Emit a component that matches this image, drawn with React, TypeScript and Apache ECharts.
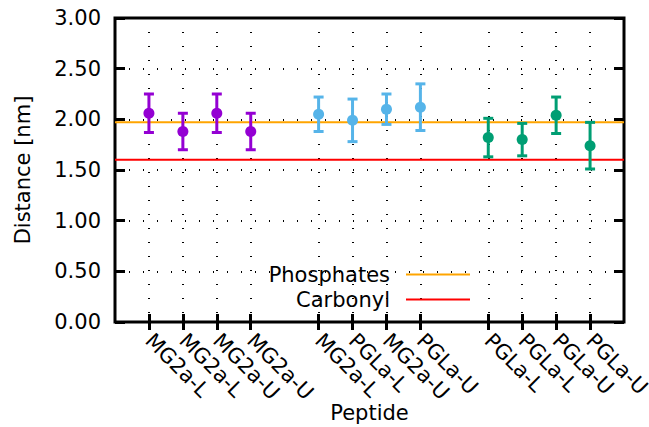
import React, { useEffect, useRef } from "react";
import * as echarts from "echarts";

const groupLabels: string[][] = [
  ["MG2a-L", "MG2a-L", "MG2a-U", "MG2a-U"],
  ["MG2a-L", "PGLa-L", "MG2a-U", "PGLa-U"],
  ["PGLa-L", "PGLa-L", "PGLa-U", "PGLa-U"],
];
const groupMeans: number[][] = [
  [2.06, 1.88, 2.06, 1.88],
  [2.05, 1.99, 2.1, 2.12],
  [1.82, 1.8, 2.04, 1.74],
];
const groupErrors: number[][] = [
  [0.19, 0.18, 0.19, 0.18],
  [0.17, 0.21, 0.15, 0.23],
  [0.19, 0.16, 0.18, 0.23],
];
const groupColors = ["#9400D3", "#56B4E9", "#009E73"];
const phosphates = 1.97;
const carbonyl = 1.6;
const yTicks = [0, 0.5, 1, 1.5, 2, 2.5, 3];

const FONT = "DejaVu Sans";
const FS = 21;

export default function App() {
  const ref = useRef<HTMLDivElement>(null);
  useEffect(() => {
    if (!ref.current) return;
    const chart = echarts.init(ref.current, null, { renderer: "svg" });

    const slots: string[] = [""];
    const positions: number[][] = [];
    groupLabels.forEach((g) => {
      const p: number[] = [];
      g.forEach((lab) => {
        p.push(slots.length);
        slots.push(lab);
      });
      positions.push(p);
      slots.push("");
    });
    const lastIdx = slots.length - 1;
    const isCat = (i: number) => slots[i] !== "";

    const series: any[] = [];
    series.push({
      name: "Phosphates",
      type: "line",
      data: [
        [0, phosphates],
        [lastIdx, phosphates],
      ],
      symbol: "none",
      lineStyle: { color: "#FFA500", width: 2 },
      itemStyle: { color: "#FFA500" },
      z: 2,
    });
    series.push({
      name: "Carbonyl",
      type: "line",
      data: [
        [0, carbonyl],
        [lastIdx, carbonyl],
      ],
      symbol: "none",
      lineStyle: { color: "#FF0000", width: 2 },
      itemStyle: { color: "#FF0000" },
      z: 2,
    });
    groupLabels.forEach((g, gi) => {
      const color = groupColors[gi];
      series.push({
        type: "custom",
        z: 3,
        data: g.map((_, i) => [positions[gi][i], groupMeans[gi][i], groupErrors[gi][i]]),
        encode: { x: 0, y: 1 },
        renderItem: (params: any, api: any) => {
          const x = api.value(0);
          const m = api.value(1);
          const e = api.value(2);
          const top = api.coord([x, m + e]);
          const bot = api.coord([x, m - e]);
          const cw = 5;
          const style = { stroke: color, lineWidth: 3 };
          return {
            type: "group",
            children: [
              { type: "line", shape: { x1: top[0], y1: top[1], x2: bot[0], y2: bot[1] }, style },
              { type: "line", shape: { x1: top[0] - cw, y1: top[1], x2: top[0] + cw, y2: top[1] }, style },
              { type: "line", shape: { x1: bot[0] - cw, y1: bot[1], x2: bot[0] + cw, y2: bot[1] }, style },
            ],
          };
        },
      });
      series.push({
        type: "scatter",
        z: 4,
        symbol: "circle",
        symbolSize: 11,
        itemStyle: { color, opacity: 1 },
        data: g.map((_, i) => [positions[gi][i], groupMeans[gi][i]]),
      });
    });

    const dotted = { color: "#000", width: 2, type: [1, 13] as any };
    const legendText = { fontFamily: FONT, fontSize: FS, color: "#000", padding: [0, 11, 0, 0] };

    chart.setOption({
      animation: false,
      textStyle: { fontFamily: FONT },
      grid: {
        left: 115,
        top: 18,
        right: 25,
        bottom: 105,
        containLabel: false,
        outerBoundsMode: "none",
        show: true,
        borderColor: "#000",
        borderWidth: 3,
        backgroundColor: "transparent",
      },
      legend: [
        {
          data: ["Phosphates"],
          right: 179,
          top: 264,
          orient: "vertical",
          align: "right",
          padding: 0,
          itemWidth: 64,
          itemHeight: 2,
          icon: "rect",
          textStyle: legendText,
        },
        {
          data: ["Carbonyl"],
          right: 179,
          top: 289,
          orient: "vertical",
          align: "right",
          padding: 0,
          itemWidth: 64,
          itemHeight: 2,
          icon: "rect",
          textStyle: legendText,
        },
      ],
      xAxis: [
        {
          type: "category",
          data: slots,
          boundaryGap: false,
          position: "bottom",
          name: "Peptide",
          nameLocation: "middle",
          nameGap: 80,
          nameMoveOverlap: false,
          nameTextStyle: { fontFamily: FONT, fontSize: FS, color: "#000", lineHeight: 22 },
          axisLine: { show: false },
          axisTick: {
            show: true,
            inside: true,
            length: 8,
            interval: (i: number) => isCat(i),
            lineStyle: { color: "#000", width: 3 },
          },
          axisLabel: {
            interval: (i: number) => isCat(i),
            rotate: -45,
            margin: 15,
            fontFamily: FONT,
            fontSize: FS,
            lineHeight: 16,
            color: "#000",
          },
          splitLine: {
            show: true,
            interval: (i: number) => isCat(i),
            lineStyle: dotted,
          },
        },
        {
          type: "category",
          data: slots,
          boundaryGap: false,
          position: "top",
          axisLine: { show: false },
          axisTick: {
            show: true,
            inside: true,
            length: 8,
            interval: (i: number) => isCat(i),
            lineStyle: { color: "#000", width: 3 },
          },
          axisLabel: { show: false },
          splitLine: { show: false },
        },
      ],
      yAxis: [
        {
          type: "value",
          min: yTicks[0],
          max: yTicks[yTicks.length - 1],
          interval: yTicks[1] - yTicks[0],
          name: "Distance [nm]",
          nameLocation: "middle",
          nameGap: 82,
          nameMoveOverlap: false,
          nameTextStyle: { fontFamily: FONT, fontSize: FS, color: "#000" },
          axisLine: { show: false },
          axisTick: { show: true, inside: true, length: 10, lineStyle: { color: "#000", width: 3 } },
          axisLabel: {
            margin: 14,
            fontFamily: FONT,
            fontSize: FS,
            color: "#000",
            formatter: (v: number) => v.toFixed(2),
          },
          splitLine: { show: true, lineStyle: dotted },
        },
        {
          type: "value",
          position: "right",
          min: yTicks[0],
          max: yTicks[yTicks.length - 1],
          interval: yTicks[1] - yTicks[0],
          axisLine: { show: false },
          axisTick: { show: true, inside: true, length: 10, lineStyle: { color: "#000", width: 3 } },
          axisLabel: { show: false },
          splitLine: { show: false },
        },
      ],
      series,
    });
    return () => chart.dispose();
  }, []);
  return <div ref={ref} style={{ width: 649, height: 427, position: "absolute", left: 0, top: 0 }} />;
}
